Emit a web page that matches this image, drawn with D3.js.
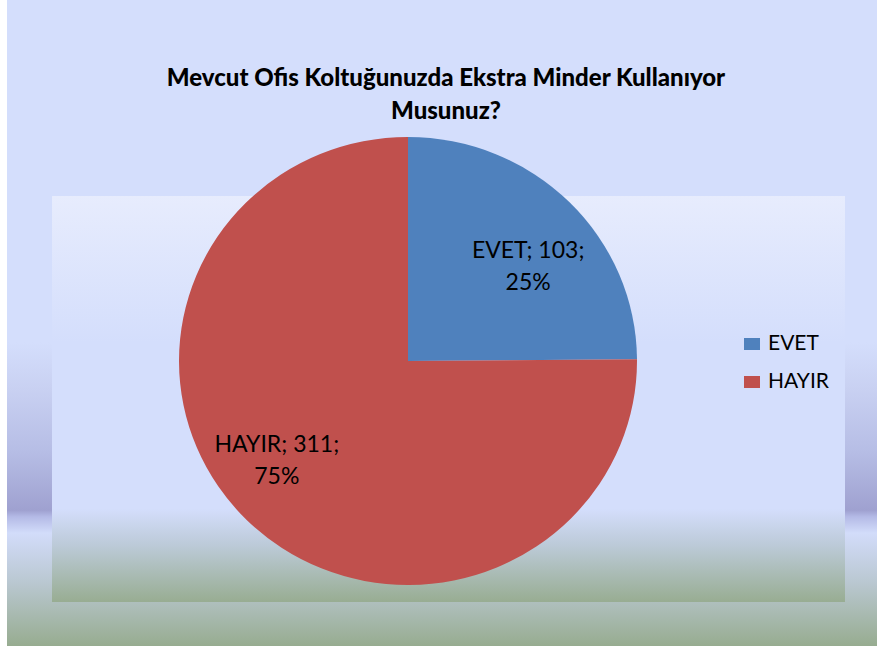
<!DOCTYPE html>
<html>
    <head>
        <script src="https://d3js.org/d3.v7.min.js"></script>
        <style>
            body{margin:0;background:#fff;}
        </style>
    </head>
    <body>
        <svg width="877" height="648" id="chart"></svg>
        <script>
            // data
            const categories=["EVET","HAYIR"];
            const counts=[103,311];
            const colors=["#4f81bd","#c0504d"];
            const titleLines=["Mevcut Ofis Koltuğunuzda Ekstra Minder Kullanıyor","Musunuz?"];

            let svg=d3.select("#chart");
            let defs=svg.append("defs");

            // outer background gradient
            let g1=defs.append("linearGradient").attr("id","outerBg")
                .attr("x1",0).attr("y1",0).attr("x2",0).attr("y2",1);
            [[0,"#d4defc"],[0.53,"#d4defc"],[0.6,"#c9d1f2"],[0.7,"#b6bde5"],[0.79,"#9fa1d0"],
             [0.8,"#b4bae6"],[0.825,"#d2dcfa"],[0.9,"#bac8d2"],[1,"#97ac90"]]
                .forEach(s=>g1.append("stop").attr("offset",s[0]).attr("stop-color",s[1]));

            // plot area gradient
            let g2=defs.append("linearGradient").attr("id","plotBg")
                .attr("x1",0).attr("y1",0).attr("x2",0).attr("y2",1);
            [[0,"#e7ecfd"],[0.36,"#d4defc"],[0.77,"#d4defc"],[0.86,"#bccad8"],[1,"#98ad92"]]
                .forEach(s=>g2.append("stop").attr("offset",s[0]).attr("stop-color",s[1]));

            svg.append("rect").attr("x",7).attr("y",0).attr("width",870).attr("height",646)
                .attr("fill","url(#outerBg)");
            svg.append("rect").attr("x",52).attr("y",196).attr("width",793).attr("height",406)
                .attr("fill","url(#plotBg)");

            // title
            let title=svg.append("text")
                .attr("text-anchor","middle")
                .attr("font-family","Lato, sans-serif")
                .attr("font-weight","900")
                .attr("font-size","24px")
                .attr("fill","#000");
            title.selectAll("tspan").data(titleLines).join("tspan")
                .attr("x",446)
                .attr("y",(d,i)=>86+i*33)
                .text(d=>d);

            // pie
            const cx=408, cy=361, rx=229, ry=224;
            let pieData=categories.map((c,i)=>({name:c,value:counts[i],color:colors[i]}));
            let total=d3.sum(counts);
            let pie=d3.pie().sort(null).value(d=>d.value);
            let arc=d3.arc().innerRadius(0).outerRadius(rx);
            let labelArc=d3.arc().innerRadius(172).outerRadius(172);
            const labelShift={EVET:[-1,22],HAYIR:[-10,-22]};

            let pg=svg.append("g").attr("transform",`translate(${cx},${cy}) scale(1,${ry/rx})`);
            pg.selectAll("path").data(pie(pieData)).join("path")
                .attr("d",arc)
                .attr("fill",d=>d.data.color);

            let lg=svg.append("g").attr("transform",`translate(${cx},${cy})`);
            let labels=lg.selectAll("text.lbl").data(pie(pieData)).join("text")
                .attr("class","lbl")
                .attr("text-anchor","middle")
                .attr("font-family","Lato, sans-serif")
                .attr("font-size","23px")
                .attr("fill","#000")
                .attr("transform",d=>{
                    let c=labelArc.centroid(d);
                    let s=labelShift[d.data.name];
                    return `translate(${c[0]+s[0]},${c[1]*ry/rx+s[1]})`;
                });
            labels.append("tspan").attr("x",0).attr("y",-6)
                .text(d=>`${d.data.name}; ${d.data.value};`);
            labels.append("tspan").attr("x",0).attr("y",26)
                .text(d=>`${Math.round(d.data.value/total*100)}%`);

            // legend
            let legend=svg.append("g").attr("transform","translate(744,338)");
            let items=legend.selectAll("g").data(pieData).join("g")
                .attr("transform",(d,i)=>`translate(0,${i*38})`);
            items.append("rect").attr("width",16).attr("height",12).attr("fill",d=>d.color);
            items.append("text").attr("x",24).attr("y",12)
                .attr("font-family","Lato, sans-serif")
                .attr("font-size","21px")
                .attr("fill","#000")
                .text(d=>d.name);
        </script>
    </body>
</html>
